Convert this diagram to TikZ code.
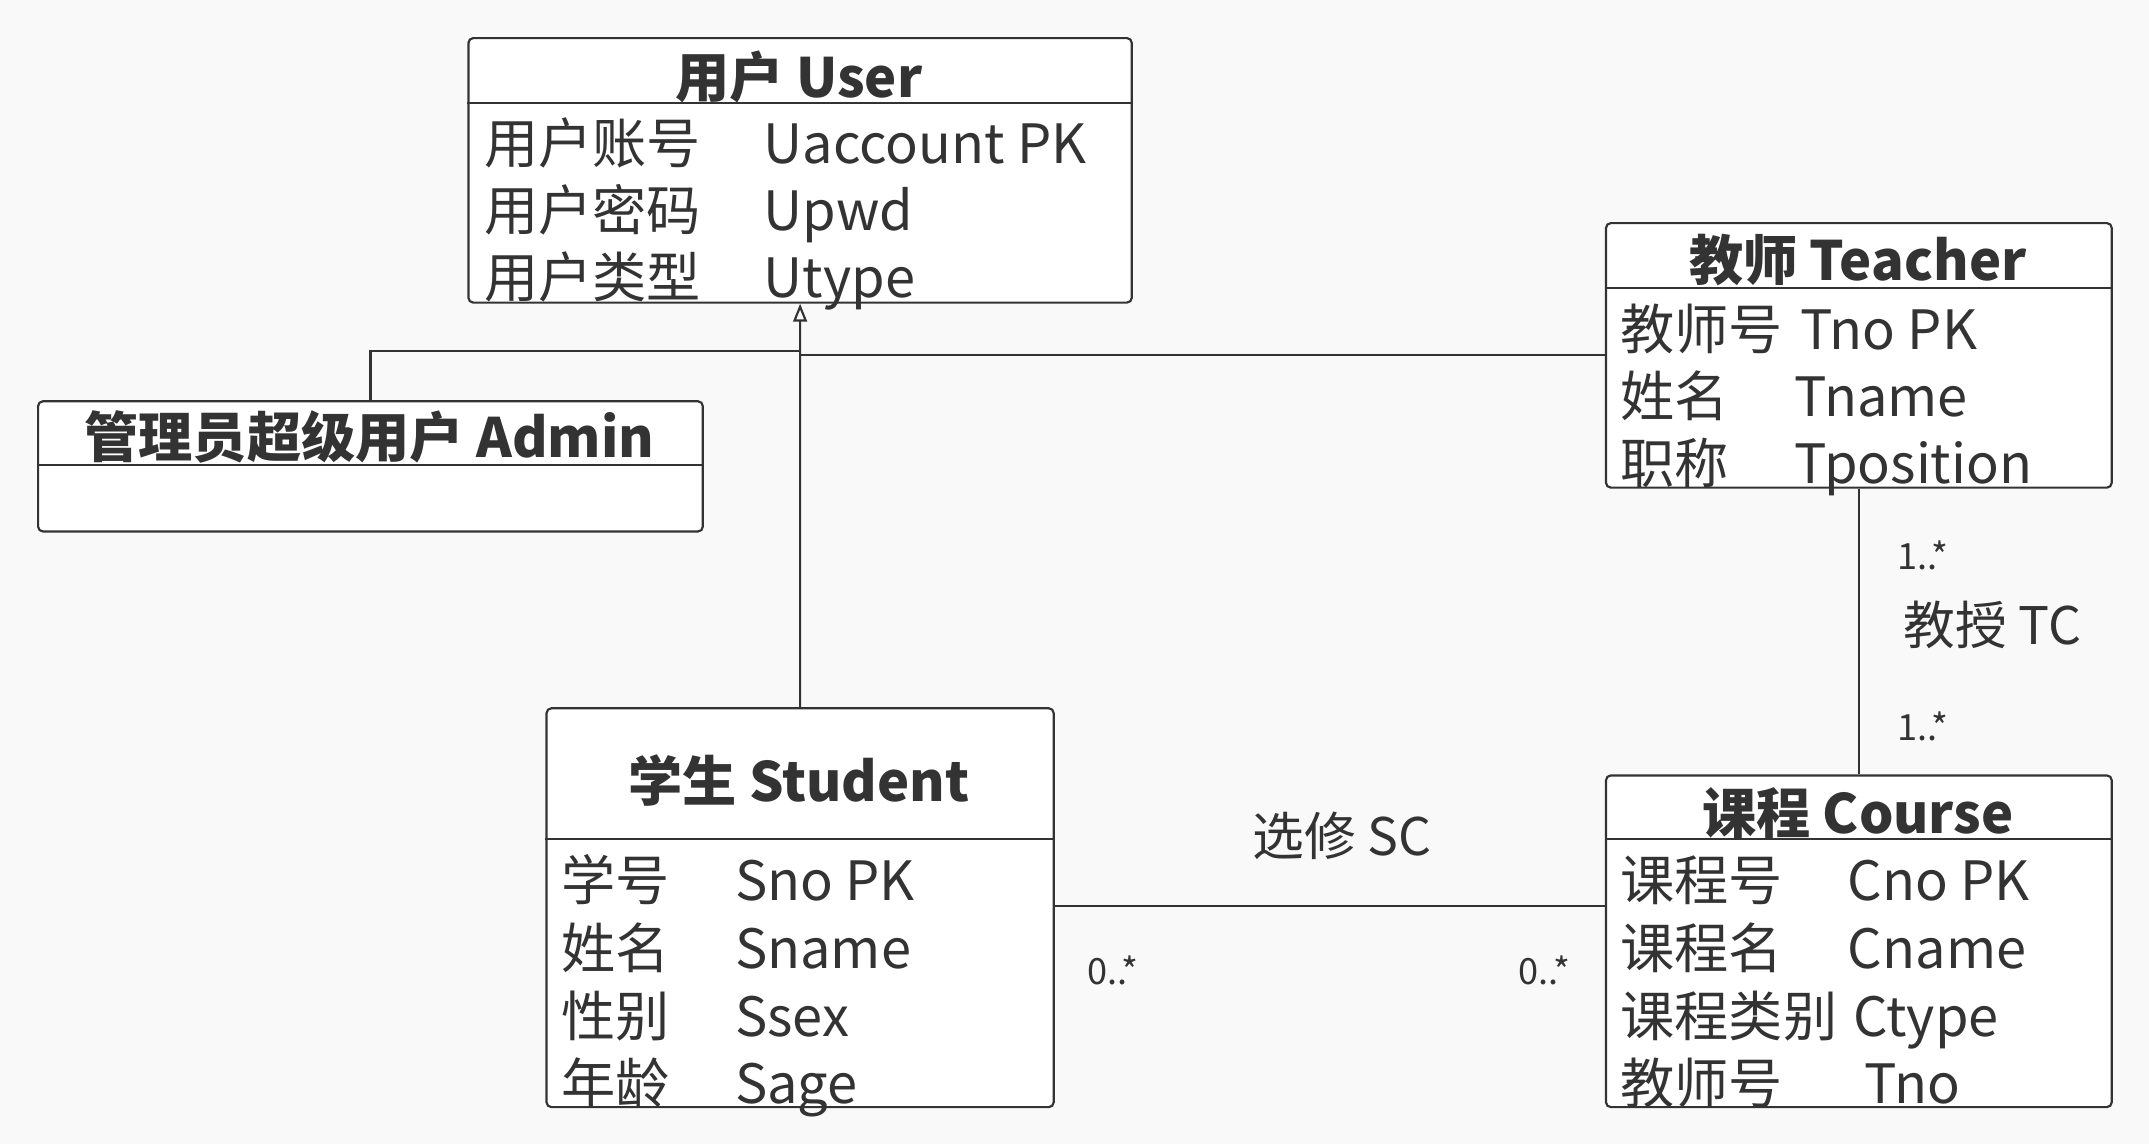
\documentclass[tikz,border=0pt]{standalone}
\usepackage{fontspec}
\setmainfont{Noto Sans CJK SC}
\usepackage{xcolor}
\definecolor{ink}{RGB}{51,51,51}
\definecolor{paper}{RGB}{249,249,249}
\usepackage{tikz}
\usetikzlibrary{arrows.meta}

\tikzset{
  umlbox/.style = {draw = ink, fill = white, line width = 0.9pt, rounded corners = 2pt, inner sep = 0pt, anchor = north west},
  ctitle/.style = {text = ink, font = \bfseries\fontsize{22.5}{26}\selectfont, anchor = base, inner sep = 0pt},
  cattr/.style = {text = ink, font = \fontsize{22.5}{26}\selectfont, anchor = base west, inner sep = 0pt},
  mult/.style = {text = ink, font = \fontsize{15}{18}\selectfont, inner sep = 0pt},
  assoc/.style = {text = ink, font = \fontsize{21.5}{25}\selectfont, inner sep = 0pt},
  link/.style = {draw = ink, line width = 0.9pt},
}

\begin{document}
\begin{tikzpicture}
\fill[paper] (0, 0) rectangle (31.36, 16.70);
\useasboundingbox (0, 0) rectangle (31.36, 16.70);

% classes
\node[umlbox, minimum width = 9.68cm, minimum height = 3.86cm] (user) at (6.82, 16.16) {};
\draw[link] ([yshift = -0.96cm]user.north west) -- ([yshift = -0.96cm]user.north east);
\node[ctitle] (userT) at (11.66, 15.28) {用户 User};
\node[cattr] (u1a) at (7.06, 14.32) {用户账号};
\node[cattr] (u1b) at (11.14, 14.32) {Uaccount PK};
\node[cattr] (u2a) at (7.06, 13.34) {用户密码};
\node[cattr] (u2b) at (11.14, 13.34) {Upwd};
\node[cattr] (u3a) at (7.06, 12.36) {用户类型};
\node[cattr] (u3b) at (11.14, 12.36) {Utype};

\node[umlbox, minimum width = 9.70cm, minimum height = 1.90cm] (admin) at (0.54, 10.86) {};
\draw[link] ([yshift = -0.94cm]admin.north west) -- ([yshift = -0.94cm]admin.north east);
\node[ctitle] (adminT) at (5.39, 10.02) {管理员超级用户 Admin};

\node[umlbox, minimum width = 7.38cm, minimum height = 3.86cm] (teacher) at (23.42, 13.46) {};
\draw[link] ([yshift = -0.96cm]teacher.north west) -- ([yshift = -0.96cm]teacher.north east);
\node[ctitle] (teacherT) at (27.11, 12.60) {教师 Teacher};
\node[cattr] (t1a) at (23.64, 11.60) {教师号};
\node[cattr] (t1b) at (26.26, 11.60) {Tno PK};
\node[cattr] (t2a) at (23.64, 10.62) {姓名};
\node[cattr] (t2b) at (26.18, 10.62) {Tname};
\node[cattr] (t3a) at (23.64, 9.64) {职称};
\node[cattr] (t3b) at (26.18, 9.64) {Tposition};

\node[umlbox, minimum width = 7.40cm, minimum height = 5.82cm] (student) at (7.96, 6.38) {};
\draw[link] ([yshift = -1.92cm]student.north west) -- ([yshift = -1.92cm]student.north east);
\node[ctitle] (studentT) at (11.66, 5.00) {学生 Student};
\node[cattr] (s1a) at (8.18, 3.56) {学号};
\node[cattr] (s1b) at (10.72, 3.56) {Sno PK};
\node[cattr] (s2a) at (8.18, 2.56) {姓名};
\node[cattr] (s2b) at (10.72, 2.56) {Sname};
\node[cattr] (s3a) at (8.18, 1.58) {性别};
\node[cattr] (s3b) at (10.72, 1.58) {Ssex};
\node[cattr] (s4a) at (8.18, 0.60) {年龄};
\node[cattr] (s4b) at (10.72, 0.60) {Sage};

\node[umlbox, minimum width = 7.38cm, minimum height = 4.84cm] (course) at (23.42, 5.40) {};
\draw[link] ([yshift = -0.94cm]course.north west) -- ([yshift = -0.94cm]course.north east);
\node[ctitle] (courseT) at (27.11, 4.54) {课程 Course};
\node[cattr] (c1a) at (23.64, 3.56) {课程号};
\node[cattr] (c1b) at (26.96, 3.56) {Cno PK};
\node[cattr] (c2a) at (23.64, 2.56) {课程名};
\node[cattr] (c2b) at (26.96, 2.56) {Cname};
\node[cattr] (c3a) at (23.64, 1.58) {课程类别};
\node[cattr] (c3b) at (27.04, 1.58) {Ctype};
\node[cattr] (c4a) at (23.64, 0.60) {教师号};
\node[cattr] (c4b) at (27.20, 0.60) {Tno};

% generalization
\coordinate (joinA) at (11.66, 11.58);
\coordinate (joinT) at (11.66, 11.52);
\draw[link, -{Triangle[open, length = 0.26cm, width = 0.2cm]}] (student.north) -- (user.south);
\draw[link] (admin.north) |- (joinA);
\draw[link] (joinT -| teacher.west) -- (joinT);

% associations
\coordinate (sc) at (19.4, 3.48);
\draw[link] (student.east |- sc) -- (course.west |- sc);
\draw[link] (teacher.south) -- (course.north);

\node[assoc] (scL) at (19.58, 4.50) {选修 SC};
\node[mult] (scM1) at (16.24, 2.54) {0..*};
\node[mult] (scM2) at (22.54, 2.54) {0..*};
\node[assoc] (tcL) at (29.08, 7.58) {教授 TC};
\node[mult] (tcM1) at (28.06, 8.60) {1..*};
\node[mult] (tcM2) at (28.06, 6.10) {1..*};

\end{tikzpicture}
\end{document}
